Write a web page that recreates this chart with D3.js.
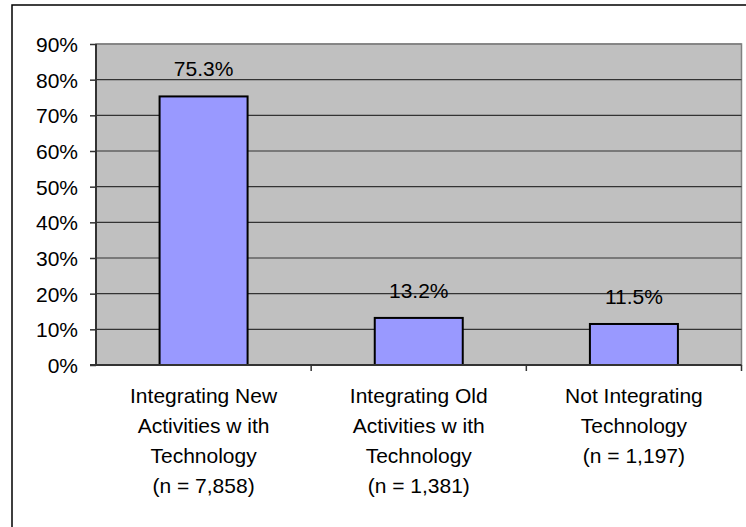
<!DOCTYPE html>
<html><head><meta charset="utf-8">
<script src="https://cdn.jsdelivr.net/npm/d3@7"></script>
<style>body{margin:0;background:#fff}svg{display:block}text{font-family:"Liberation Sans",Arial,sans-serif;fill:#000}</style>
</head><body>
<svg id="c" width="746" height="527"></svg>
<script>
const categories = [
  ["Integrating New", "Activities w ith", "Technology", "(n = 7,858)"],
  ["Integrating Old", "Activities w ith", "Technology", "(n = 1,381)"],
  ["Not Integrating", "Technology", "(n = 1,197)"]
];
const values = [75.3, 13.2, 11.5];
const valueLabels = ["75.3%", "13.2%", "11.5%"];
const yTicks = [0, 10, 20, 30, 40, 50, 60, 70, 80, 90];

const svg = d3.select("#c");
const L = 96, R = 741.5, T = 44, B = 365;
const FS = 21;

// outer frame
svg.append("path").attr("d", `M12,530 L12,5 L750,5`).attr("fill", "none").attr("stroke", "#000").attr("stroke-width", 1.5);

const x = d3.scaleBand().domain(d3.range(categories.length)).range([L, R]).paddingInner(0).paddingOuter(0);
const y = d3.scaleLinear().domain([0, 90]).range([B, T]);

// plot background
svg.append("rect").attr("x", L).attr("y", T).attr("width", R - L).attr("height", B - T).attr("fill", "#C0C0C0").attr("stroke", "#808080").attr("stroke-width", 1.5);

// gridlines
svg.append("g").selectAll("line").data(yTicks.filter(d => d > 0)).join("line")
  .attr("x1", L).attr("x2", R).attr("y1", d => y(d)).attr("y2", d => y(d))
  .attr("stroke", d => d === 90 ? "#808080" : "#333").attr("stroke-width", d => d === 90 ? 1.5 : 1.2);

// bars
const bw = 88;
svg.append("g").selectAll("rect").data(values).join("rect")
  .attr("x", (d, i) => x(i) + x.bandwidth() / 2 - bw / 2)
  .attr("y", d => y(d)).attr("width", bw).attr("height", d => B - y(d))
  .attr("fill", "#9999FF").attr("stroke", "#000").attr("stroke-width", 2);

// value labels
svg.append("g").selectAll("text").data(values).join("text")
  .attr("x", (d, i) => x(i) + x.bandwidth() / 2)
  .attr("y", d => y(d) - 20)
  .attr("text-anchor", "middle").attr("font-size", FS)
  .text((d, i) => valueLabels[i]);

// y axis
const yAxis = d3.axisLeft(y).tickValues(yTicks).tickFormat(d => d + "%").tickSize(6).tickPadding(12);
const gy = svg.append("g").attr("transform", `translate(${L},0)`).call(yAxis);
gy.select(".domain").attr("stroke", "#333").attr("stroke-width", 2).attr("d", `M0,${T}V${B}`);
gy.selectAll(".tick line").attr("stroke", "#333").attr("stroke-width", 1.5);
gy.selectAll(".tick text").attr("font-size", FS).attr("font-family", "Liberation Sans, Arial, sans-serif").attr("fill", "#000").attr("dy", "0.36em");

// x axis
const xb = d3.scaleLinear().domain([0, 3]).range([L, R]);
const gx = svg.append("g");
gx.append("line").attr("x1", L - 6).attr("x2", R).attr("y1", B).attr("y2", B).attr("stroke", "#333").attr("stroke-width", 2);
gx.selectAll("line.tk").data([1, 2, 3]).join("line").attr("class", "tk")
  .attr("x1", d => xb(d)).attr("x2", d => xb(d)).attr("y1", B).attr("y2", B + 6)
  .attr("stroke", "#333").attr("stroke-width", 1.5);

// category labels
const lab = svg.append("g").selectAll("text").data(categories).join("text")
  .attr("text-anchor", "middle").attr("font-size", FS);
lab.selectAll("tspan").data((d, i) => d.map(s => ({ s, i }))).join("tspan")
  .attr("x", d => x(d.i) + x.bandwidth() / 2)
  .attr("y", (d, j) => 403 + j * 30)
  .text(d => d.s);
</script>
</body></html>
